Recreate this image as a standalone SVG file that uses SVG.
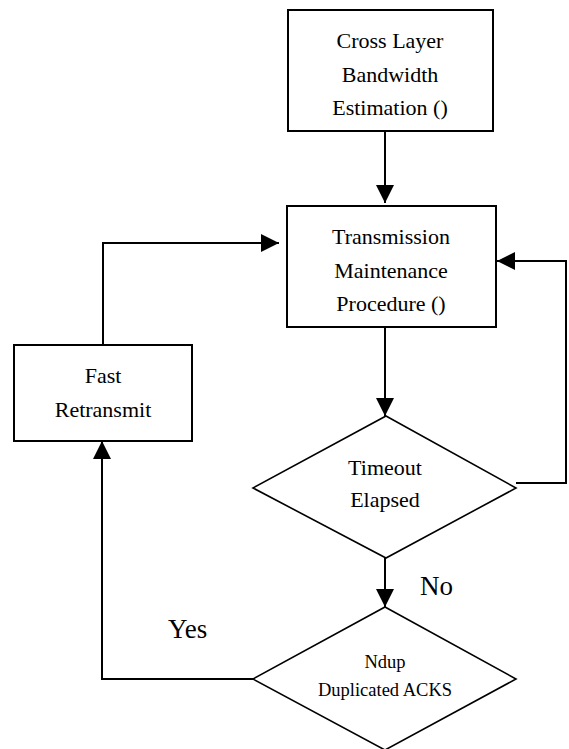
<svg xmlns="http://www.w3.org/2000/svg" width="569" height="749" viewBox="0 0 569 749">
<style>
.box{fill:#fff;stroke:#000;stroke-width:2}
.dia{fill:#fff;stroke:#000;stroke-width:1.6}
.t{font-family:"Liberation Serif","Times New Roman",serif;font-size:22px;fill:#000;text-anchor:middle}
.s{font-family:"Liberation Serif","Times New Roman",serif;font-size:18.5px;fill:#000;text-anchor:middle}
.l{font-family:"Liberation Serif","Times New Roman",serif;font-size:27px;fill:#000}
.c{fill:none;stroke:#000;stroke-width:2;marker-end:url(#ah)}
</style>
<defs>
<marker id="ah" viewBox="0 0 18 18" refX="18" refY="9" markerWidth="18" markerHeight="18" markerUnits="userSpaceOnUse" orient="auto">
<path d="M0,0 L18,9 L0,18 z" fill="#000"/>
</marker>
</defs>
<rect width="569" height="749" fill="#fff"/>
<g id="connectors">
<path class="c" d="M385,131 V203"/>
<path class="c" d="M103,345 V243 H279"/>
<path class="c" d="M516,483 H566 V261 H497"/>
<path class="c" d="M385,327 V416"/>
<path class="c" d="M385,558 V607"/>
<path class="c" d="M253,679 H102 V441"/>
</g>
<g id="node-cross-layer">
<rect class="box" x="288" y="10" width="205" height="121"/>
<text class="t" x="390" y="48">Cross Layer</text>
<text class="t" x="390" y="82">Bandwidth</text>
<text class="t" x="390" y="115">Estimation ()</text>
</g>
<g id="node-transmission">
<rect class="box" x="287" y="206" width="209" height="121"/>
<text class="t" x="391" y="244">Transmission</text>
<text class="t" x="391" y="278">Maintenance</text>
<text class="t" x="391" y="311">Procedure ()</text>
</g>
<g id="node-fast-retransmit">
<rect class="box" x="14" y="345" width="178" height="96"/>
<text class="t" x="103" y="383">Fast</text>
<text class="t" x="103" y="417">Retransmit</text>
</g>
<g id="node-timeout">
<polygon class="dia" points="386,416 516,488 386,558 253,488"/>
<text class="t" x="385" y="475">Timeout</text>
<text class="t" x="385" y="507">Elapsed</text>
</g>
<g id="node-ndup">
<polygon class="dia" points="385,607 516,679 385,750 253,679"/>
<text class="s" x="385" y="668">Ndup</text>
<text class="s" x="385" y="696">Duplicated ACKS</text>
</g>
<g id="labels">
<text class="l" x="420" y="595">No</text>
<text class="l" x="168" y="638">Yes</text>
</g>
</svg>
